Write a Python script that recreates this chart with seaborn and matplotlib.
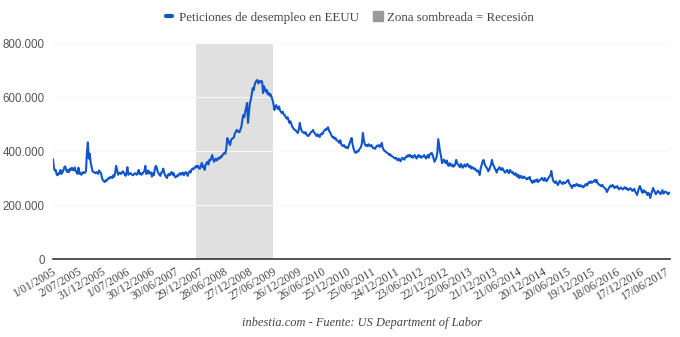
import matplotlib
matplotlib.use("Agg")
import matplotlib.pyplot as plt
from matplotlib.lines import Line2D
import numpy as np
import pandas as pd
import seaborn as sns

# Weekly initial jobless claims (thousands), one list per calendar year
claims_2005 = [370, 338, 327, 329, 312, 310, 318, 316, 330, 315,
               321, 328, 340, 343, 330, 322, 330, 322, 335, 330,
               338, 329, 330, 339, 325, 323, 315, 338, 316, 320,
               312, 316, 322, 318, 320, 325, 395, 432, 372, 390,
               357, 340, 325, 322, 320, 318, 322, 320, 315, 328,
               322, 318]
claims_2006 = [300, 292, 288, 285, 292, 290, 296, 300, 298, 305,
               303, 300, 310, 305, 320, 345, 330, 312, 318, 320,
               315, 318, 325, 320, 315, 308, 320, 340, 312, 315,
               318, 316, 312, 310, 314, 318, 315, 312, 320, 330,
               314, 318, 312, 316, 322, 325, 345, 315, 320, 328,
               316, 322]
claims_2007 = [320, 305, 318, 310, 330, 345, 340, 325, 318, 312,
               308, 320, 322, 335, 320, 310, 305, 300, 312, 315,
               310, 318, 322, 312, 318, 308, 302, 305, 310, 308,
               315, 318, 312, 318, 320, 310, 318, 322, 315, 308,
               320, 325, 320, 330, 335, 332, 338, 338, 345, 340,
               345, 335]
claims_2008 = [335, 345, 356, 340, 345, 330, 350, 355, 360, 350,
               367, 365, 375, 385, 370, 360, 367, 372, 365, 370,
               375, 372, 380, 378, 385, 390, 393, 390, 410, 448,
               440, 430, 422, 440, 445, 448, 450, 465, 470, 478,
               475, 470, 470, 480, 490, 515, 533, 525, 545, 560,
               578, 504]
claims_2009 = [540, 578, 590, 610, 633, 625, 645, 655, 660, 663,
               650, 658, 655, 660, 656, 615, 640, 630, 620, 626,
               610, 615, 605, 610, 600, 590, 575, 552, 565, 570,
               560, 555, 565, 550, 545, 540, 545, 535, 533, 525,
               520, 525, 515, 504, 510, 500, 490, 485, 480, 478,
               475, 470]
claims_2010 = [467, 480, 504, 485, 475, 470, 468, 465, 470, 462,
               458, 455, 460, 465, 470, 472, 478, 470, 465, 460,
               455, 462, 458, 452, 460, 465, 462, 470, 475, 480,
               478, 484, 488, 475, 470, 462, 455, 450, 452, 445,
               448, 440, 438, 435, 430, 440, 425, 420, 418, 422,
               415, 412]
claims_2011 = [415, 410, 420, 430, 440, 448, 425, 410, 400, 393,
               395, 400, 398, 405, 410, 415, 430, 467, 440, 425,
               420, 422, 418, 425, 420, 418, 422, 415, 410, 412,
               408, 415, 420, 418, 422, 415, 420, 430, 412, 405,
               400, 398, 395, 392, 390, 385, 388, 382, 380, 378,
               375, 372]
claims_2012 = [375, 370, 365, 372, 368, 362, 370, 375, 372, 368,
               375, 380, 378, 385, 380, 385, 378, 382, 375, 380,
               385, 378, 372, 380, 385, 378, 382, 375, 378, 380,
               385, 378, 372, 380, 385, 375, 388, 390, 393, 385,
               372, 360, 368, 375, 395, 444, 420, 395, 380, 355,
               362, 368]
claims_2013 = [360, 355, 365, 350, 345, 355, 350, 345, 350, 342,
               345, 350, 367, 355, 350, 345, 340, 352, 345, 338,
               345, 350, 342, 348, 352, 345, 340, 345, 335, 340,
               338, 332, 335, 330, 325, 328, 320, 311, 335, 348,
               360, 367, 355, 345, 340, 335, 325, 330, 340, 350,
               367, 350]
claims_2014 = [345, 335, 330, 320, 330, 335, 340, 332, 330, 337,
               330, 325, 320, 325, 330, 322, 318, 330, 325, 320,
               322, 315, 312, 318, 310, 305, 312, 300, 305, 308,
               300, 300, 305, 302, 298, 295, 300, 298, 304, 292,
               288, 282, 290, 285, 292, 288, 295, 285, 290, 292,
               295, 300]
claims_2015 = [295, 290, 300, 292, 288, 295, 300, 305, 310, 326,
               305, 290, 285, 282, 288, 280, 274, 282, 290, 285,
               280, 278, 285, 280, 282, 285, 290, 293, 280, 275,
               270, 263, 272, 275, 270, 275, 278, 272, 270, 275,
               268, 272, 270, 265, 270, 275, 278, 272, 280, 285,
               282, 288]
claims_2016 = [282, 285, 288, 293, 285, 293, 282, 278, 275, 272,
               270, 275, 268, 265, 262, 258, 248, 255, 262, 268,
               272, 268, 274, 270, 263, 268, 265, 270, 262, 258,
               262, 265, 260, 258, 262, 266, 260, 263, 258, 255,
               260, 262, 258, 252, 255, 260, 250, 245, 237, 250,
               262, 270]
claims_2017 = [262, 250, 245, 255, 248, 250, 245, 237, 245, 240,
               226, 240, 250, 263, 255, 248, 240, 245, 252, 250,
               245, 240, 248, 255, 242, 246, 250, 248, 244, 240,
               246, 244]

first_week = "2005-01-01"
recession_start = "2007-12-01"
recession_end = "2009-06-27"

tick_labels = ["1/01/2005", "2/07/2005", "31/12/2005", "1/07/2006", "30/12/2006",
               "30/06/2007", "29/12/2007", "28/06/2008", "27/12/2008", "27/06/2009",
               "26/12/2009", "26/06/2010", "25/12/2010", "25/06/2011", "24/12/2011",
               "23/06/2012", "22/12/2012", "22/06/2013", "21/12/2013", "21/06/2014",
               "20/12/2014", "20/06/2015", "19/12/2015", "18/06/2016", "17/12/2016",
               "17/06/2017"]

series_label = "Peticiones de desempleo en EEUU"
shade_label = "Zona sombreada = Recesión"
source_text = "inbestia.com - Fuente: US Department of Labor"

claims = (claims_2005 + claims_2006 + claims_2007 + claims_2008 + claims_2009 +
          claims_2010 + claims_2011 + claims_2012 + claims_2013 + claims_2014 +
          claims_2015 + claims_2016 + claims_2017)
df = pd.DataFrame({"week": np.arange(len(claims)),
                   "claims": np.array(claims) * 1000})

def week_index(date):
    return (pd.Timestamp(date) - pd.Timestamp(first_week)).days / 7

sns.set_theme(style="white")
serif = ["Liberation Serif", "DejaVu Serif"]
sans = ["Liberation Sans", "DejaVu Sans"]

line_color = "#1155cc"
shade_color = "#e0e0e0"
text_color = "#444444"

fig = plt.figure(figsize=(6.8, 3.37), dpi=100)
ax = fig.add_axes([53 / 680, 1 - 259 / 337, 617 / 680, 216 / 337])

ax.axvspan(week_index(recession_start), week_index(recession_end),
           color=shade_color, lw=0, zorder=0)
sns.lineplot(data=df, x="week", y="claims", ax=ax, color=line_color,
             linewidth=1.5, zorder=3)

ax.set_xlim(0, len(claims) - 1)
ax.set_ylim(0, 800000)
ax.set_xlabel("")
ax.set_ylabel("")

yt = np.arange(0, 800001, 200000)
ax.set_yticks(yt)
ax.set_yticklabels([f"{int(v):,}".replace(",", ".") for v in yt],
                   family=sans, fontsize=8.3, color="#555555")
for v in yt[1:]:
    ax.axhline(v, color="#f8f8f8", lw=0.8, zorder=1)

ax.set_xticks(np.arange(len(tick_labels)) * 26)
ax.set_xticklabels(tick_labels, rotation=30, ha="right", rotation_mode="anchor",
                   family=serif, fontsize=8.4, color=text_color)
ax.tick_params(axis="both", length=0)
ax.tick_params(axis="y", pad=6)
ax.tick_params(axis="x", pad=5)

for s in ["top", "right", "left"]:
    ax.spines[s].set_visible(False)
ax.spines["bottom"].set_color("#333333")
ax.spines["bottom"].set_linewidth(1.2)

handles = [Line2D([0], [0], color=line_color, lw=3, solid_capstyle="round"),
           Line2D([0], [0], marker="s", linestyle="none", markersize=7.5,
                  markerfacecolor="#999999", markeredgecolor="#999999")]
fig.legend(handles, [series_label, shade_label], loc="center",
           bbox_to_anchor=(350 / 680, 1 - 18 / 337), ncol=2, frameon=False,
           handlelength=0.5, handletextpad=0.5, columnspacing=1.2,
           prop={"family": serif, "size": 9.3}, labelcolor=text_color)

fig.text(362 / 680, 1 - 323 / 337, source_text, ha="center", va="center",
         family=serif, style="italic", fontsize=8.9, color=text_color)

fig.savefig("out.png", dpi=100)
